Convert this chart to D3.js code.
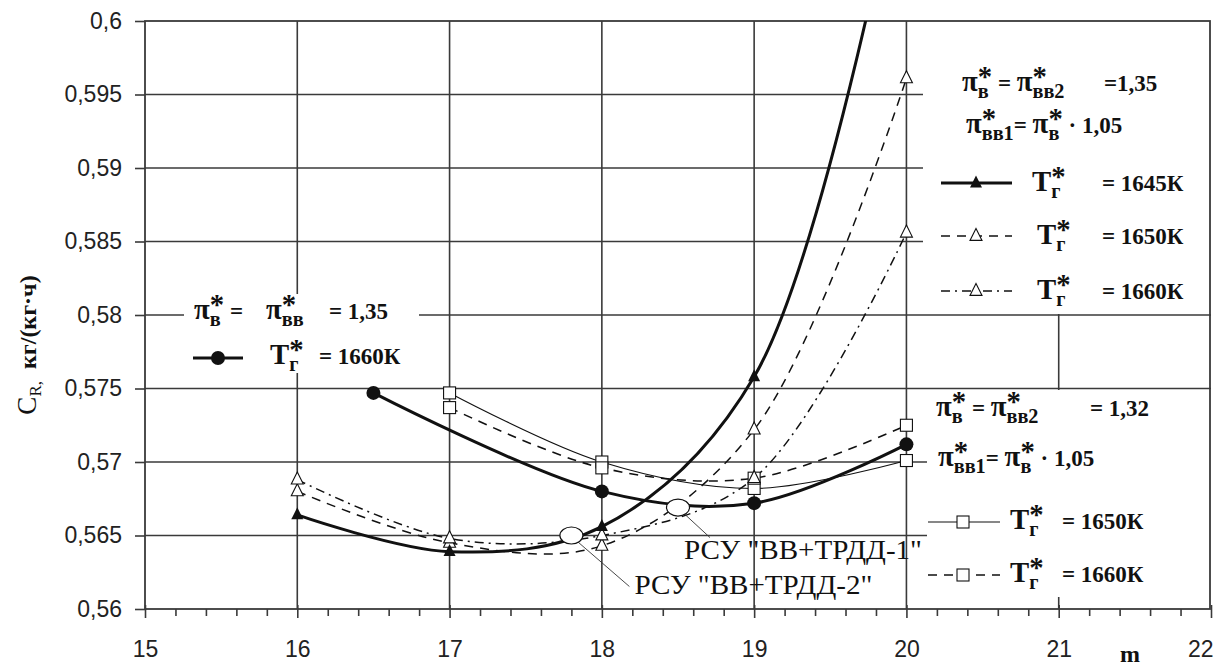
<!DOCTYPE html>
<html><head><meta charset="utf-8">
<script src="https://cdn.jsdelivr.net/npm/d3@7"></script>
<style>body{margin:0;background:#fff}</style>
</head><body>
<svg id="c" width="1219" height="670" xmlns="http://www.w3.org/2000/svg"></svg>
<script>
// ---------- data ----------
const xMajorTicks = [15,16,17,18,19,20,21,22];
const xTickLabels = ["15","16","17","18","19","20","21","22"];
const yTicks = [0.56,0.565,0.57,0.575,0.58,0.585,0.59,0.595,0.6];
const yTickLabels = ["0,56","0,565","0,57","0,575","0,58","0,585","0,59","0,595","0,6"];

// pi_B = pi_BB = 1,35 ; T = 1660K (filled circles)
const mCircle = [16.5,18,19,20];
const circle1660 = [0.5747,0.5680,0.5672,0.5712];

// pi_B = pi_BB2 = 1,35 (triangles)
const mTri = [16,17,18,19,20];
const tri1645 = [0.5664,0.5639,0.5656,0.5758,0.6130];
const tri1650 = [0.5680,0.5645,0.5643,0.5722,0.5961];
const tri1660 = [0.5688,0.5648,0.5650,0.5689,0.5856];

// pi_B = pi_BB2 = 1,32 (squares)
const mSq = [17,18,19,20];
const sq1650 = [0.5747,0.5700,0.5682,0.5701];
const sq1660 = [0.5737,0.5696,0.5689,0.5725];

// annotated points
const annM = [18.5,17.8];
const annV = [0.5669,0.5650];
const annLabels = ['РСУ "ВВ+ТРДД-1"','РСУ "ВВ+ТРДД-2"'];

// ---------- chart ----------
const svg = d3.select("#c");
const W=1219,H=670;
const x = d3.scaleLinear().domain([15,22]).range([145,1211]);
const y = d3.scaleLinear().domain([0.56,0.6]).range([609,21]);
const ink="#111", gridC="#3a3a3a";

svg.append("rect").attr("width",W).attr("height",H).attr("fill","#fff");
svg.append("defs").append("clipPath").attr("id","plot")
  .append("rect").attr("x",x(15)).attr("y",y(0.6)).attr("width",x(22)-x(15)).attr("height",y(0.56)-y(0.6));

// grid
const grid = svg.append("g");
grid.selectAll("line.h").data(yTicks.slice(1,-1)).join("line")
  .attr("x1",x(15)).attr("x2",x(22)).attr("y1",d=>y(d)).attr("y2",d=>y(d))
  .attr("stroke",gridC).attr("stroke-width",1.6);
grid.selectAll("line.v").data(xMajorTicks.slice(1,-1)).join("line")
  .attr("y1",y(0.56)).attr("y2",y(0.6)).attr("x1",d=>x(d)).attr("x2",d=>x(d))
  .attr("stroke",gridC).attr("stroke-width",1.6);

// white legend boxes (cover grid)
const boxes = [[923,21,1211,314],[927,390,1211,597],[184,294,419,373]];
boxes.forEach(b=>svg.append("rect").attr("x",b[0]).attr("y",b[1]).attr("width",b[2]-b[0]).attr("height",b[3]-b[1]).attr("fill","#fff"));

// frame
svg.append("rect").attr("x",x(15)).attr("y",y(0.6)).attr("width",x(22)-x(15)-1).attr("height",y(0.56)-y(0.6))
  .attr("fill","none").attr("stroke",gridC).attr("stroke-width",1.8);

// axes
const fontAx = "'Liberation Sans', Arial, sans-serif";
const minor = d3.range(15,22.001,0.2).map(v=>+v.toFixed(1)).filter(v=>Math.abs(v-Math.round(v))>1e-6);
const xMinor = svg.append("g").attr("transform",`translate(0,${y(0.56)})`)
  .call(d3.axisBottom(x).tickValues(minor).tickSize(7).tickSizeOuter(0).tickFormat(""));
const xMajor = svg.append("g").attr("transform",`translate(0,${y(0.56)})`)
  .call(d3.axisBottom(x).tickValues(xMajorTicks).tickSize(9).tickSizeOuter(0).tickPadding(23)
    .tickFormat((d,i)=>xTickLabels[i]));
xMajor.selectAll(".tick line").attr("y1",-4);
const yAx = svg.append("g").attr("transform",`translate(${x(15)},0)`)
  .call(d3.axisLeft(y).tickValues(yTicks).tickSize(10).tickSizeOuter(0).tickPadding(13)
    .tickFormat((d,i)=>yTickLabels[i]));
[xMinor,xMajor,yAx].forEach(g=>{
  g.select(".domain").remove();
  g.selectAll(".tick line").attr("stroke",gridC).attr("stroke-width",1.6);
  g.selectAll("text").attr("font-family",fontAx).attr("font-size",23).attr("fill","#222");
});
xMajor.selectAll(".tick").filter(d=>d===22).select("text").attr("text-anchor","end").attr("dx",2);

// ---------- series ----------
const plot = svg.append("g").attr("clip-path","url(#plot)");
const line = d3.line().x(d=>x(d[0])).y(d=>y(d[1])).curve(d3.curveCatmullRom.alpha(0.5));
const zip=(ms,vs)=>ms.map((m,i)=>[m,vs[i]]);
function series(ms,vs,width,dash){
  plot.append("path").attr("d",line(zip(ms,vs))).attr("fill","none").attr("stroke",ink)
    .attr("stroke-width",width).attr("stroke-dasharray",dash||null).attr("stroke-linejoin","round");
}
series(mSq,sq1650,1.1,null);
series(mSq,sq1660,1.6,"9,7");
series(mTri,tri1650,1.5,"9,7");
series(mTri,tri1660,1.5,"9,5,2,5");
series(mTri,tri1645,3,null);
series(mCircle,circle1660,3,null);

const triPath = (cx,cy,s)=>`M${cx},${cy-s*0.95}L${cx+s*0.75},${cy+s*0.55}L${cx-s*0.75},${cy+s*0.55}Z`;
function markers(g,ms,vs,kind){
  zip(ms,vs).filter(d=>d[1]<=0.6).forEach(d=>drawMarker(g,x(d[0]),y(d[1]),kind));
}
function drawMarker(g,cx,cy,kind){
  if(kind==="circle") g.append("circle").attr("cx",cx).attr("cy",cy).attr("r",7).attr("fill",ink);
  else if(kind==="tri") g.append("path").attr("d",triPath(cx,cy,8)).attr("fill",ink);
  else if(kind==="otri") g.append("path").attr("d",triPath(cx,cy,8)).attr("fill","#fff").attr("stroke",ink).attr("stroke-width",1.1);
  else if(kind==="sq") g.append("rect").attr("x",cx-6).attr("y",cy-6).attr("width",12).attr("height",12).attr("fill","#fff").attr("stroke",ink).attr("stroke-width",1.1);
}
const mk = svg.append("g");
markers(mk,mSq,sq1650,"sq");
markers(mk,mSq,sq1660,"sq");
markers(mk,mTri,tri1650,"otri");
markers(mk,mTri,tri1660,"otri");
markers(mk,mTri,tri1645,"tri");
markers(mk,mCircle,circle1660,"circle");

// annotations
const serif = "'Liberation Serif','Times New Roman',serif";
const annOff = [[32,30],[58,51]];
const annText = [[6,51],[63,58]];
annM.forEach((m,i)=>{
  const cx=x(m), cy=y(annV[i]);
  svg.append("line").attr("x1",cx+6).attr("y1",cy+6).attr("x2",cx+annOff[i][0]).attr("y2",cy+annOff[i][1])
    .attr("stroke","#333").attr("stroke-width",0.9);
  svg.append("ellipse").attr("cx",cx).attr("cy",cy).attr("rx",11.5).attr("ry",8.5)
    .attr("fill","#fff").attr("stroke",ink).attr("stroke-width",1.2);
  svg.append("text").attr("x",cx+annText[i][0]).attr("y",cy+annText[i][1]).text(annLabels[i])
    .attr("font-family",serif).attr("font-size",27).attr("fill",ink)
    .attr("textLength",238).attr("lengthAdjust","spacingAndGlyphs");
});

// ---------- rich text helper (one text element with tspans) ----------
function rich(x0,y0,str,size){
  size=size||23;
  const t=svg.append("text").attr("font-family",serif).attr("font-weight","bold").attr("fill",ink)
    .attr("xml:space","preserve").style("white-space","pre");
  const toks=str.match(/(\^\{[^}]*\}|_\{[^}]*\}|[^^_]+)/g);
  let cx=x0;
  const put=(s,px,dy,fs)=>{
    const el=t.append("tspan").attr("x",px).attr("y",y0+dy).attr("font-size",fs).text(s);
    return el.node().getComputedTextLength();
  };
  for(let i=0;i<toks.length;i++){
    const tk=toks[i];
    if(tk.startsWith("^{")){
      const w1=put(tk.slice(2,-1),cx,-5,size*1.25);
      let w2=0;
      if(i+1<toks.length && toks[i+1].startsWith("_{")){ w2=put(toks[i+1].slice(2,-1),cx,7,size*0.88); i++; }
      cx+=Math.max(w1,w2);
    } else if(tk.startsWith("_{")){
      cx+=put(tk.slice(2,-1),cx,7,size*0.88);
    } else {
      tk.split(/([πТ])/).filter(s=>s.length).forEach(s=>{
        cx+=put(s,cx,0,(s==="π"||s==="Т")?size*1.25:size);
      });
    }
  }
  return t;
}

// top-right legend
rich(962,91,"π^{*}_{в} = π^{*}_{вв2}");
rich(1104,91,"=1,35");
rich(966,133,"π^{*}_{вв1}= π^{*}_{в} · 1,05");
const trRows=[{y:183,kind:"tri",w:3,dash:null,t:"1645К"},{y:236,kind:"otri",w:1.5,dash:"9,7",t:"1650К"},{y:291,kind:"otri",w:1.5,dash:"9,5,2,5",t:"1660К"}];
trRows.forEach((r,i)=>{
  svg.append("line").attr("x1",941).attr("x2",1012).attr("y1",r.y).attr("y2",r.y).attr("stroke",ink).attr("stroke-width",r.w).attr("stroke-dasharray",r.dash);
  drawMarker(svg,976,r.y,r.kind);
  rich(i===0?1032:1037,r.y+8,"Т^{*}_{г}");
  rich(1102,r.y+8,"= "+r.t);
});
// lower-right legend
rich(936,416,"π^{*}_{в} = π^{*}_{вв2}");
rich(1090,416,"= 1,32");
rich(938,466,"π^{*}_{вв1}= π^{*}_{в} · 1,05");
const lrRows=[{y:522,w:1.1,dash:null,t:"1650К"},{y:575,w:1.6,dash:"9,7",t:"1660К"}];
lrRows.forEach(r=>{
  svg.append("line").attr("x1",928).attr("x2",1000).attr("y1",r.y).attr("y2",r.y).attr("stroke",ink).attr("stroke-width",r.w).attr("stroke-dasharray",r.dash);
  drawMarker(svg,963,r.y,"sq");
  rich(1010,r.y+7,"Т^{*}_{г}");
  rich(1062,r.y+7,"= "+r.t);
});
// left legend
rich(194,319,"π^{*}_{в} =");
rich(266,319,"π^{*}_{вв}");
rich(329,319,"= 1,35");
svg.append("line").attr("x1",193).attr("x2",243).attr("y1",358).attr("y2",358).attr("stroke",ink).attr("stroke-width",3);
drawMarker(svg,218,358,"circle");
rich(270,364,"Т^{*}_{г}");
rich(319,364,"= 1660К");

// axis titles
const yt=svg.append("text").attr("transform","translate(36,345) rotate(-90)").attr("text-anchor","middle")
  .attr("font-family",serif).attr("font-size",27).attr("fill",ink).attr("xml:space","preserve").style("white-space","pre");
yt.append("tspan").text("C");
yt.append("tspan").attr("dy",5).attr("font-size",17).text("R,");
yt.append("tspan").attr("dy",-5).attr("font-weight","bold").attr("font-size",24).text("  кг/(кг·ч)");
svg.append("text").attr("x",1130).attr("y",662).attr("text-anchor","middle").attr("font-family",serif)
  .attr("font-weight","bold").attr("font-size",24).attr("fill",ink).text("m");
</script>
</body></html>
